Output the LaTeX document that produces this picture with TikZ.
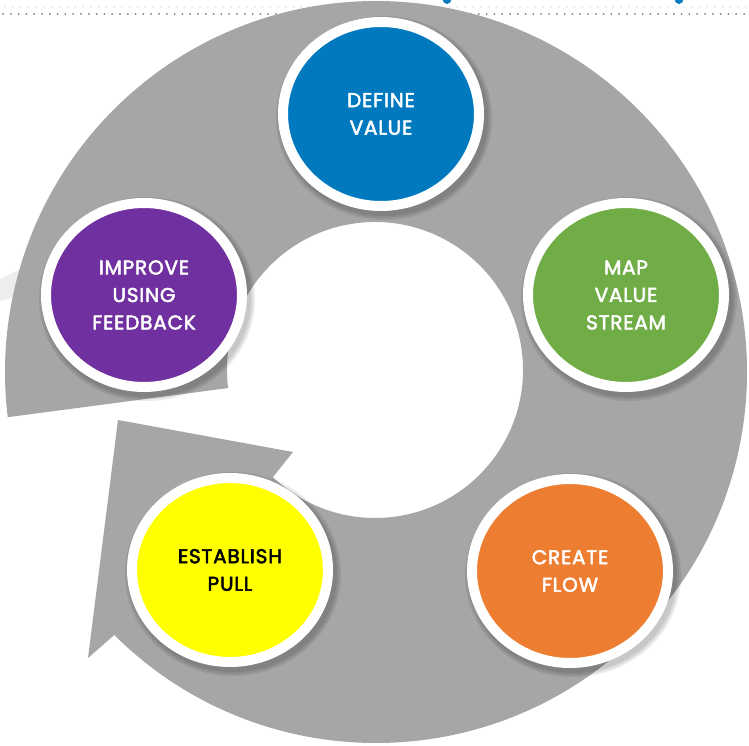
\documentclass[tikz,border=0pt]{standalone}
\usepackage{fontspec}
\newfontfamily\lblfont{Poppins}[FakeBold=2.5,LetterSpace=4]
\usetikzlibrary{shapes.geometric,calc}

\definecolor{ringgray}{HTML}{A6A6A6}
\definecolor{glint}{HTML}{EDEDED}
\definecolor{dotblue}{HTML}{5E7F9C}
\definecolor{faintblue}{HTML}{DDEEF7}
\definecolor{headblue}{HTML}{0A7AC2}
\definecolor{cblue}{HTML}{0079BF}
\definecolor{cgreen}{HTML}{70AD47}
\definecolor{corange}{HTML}{ED7D31}
\definecolor{cyellow}{HTML}{FFFF00}
\definecolor{cpurple}{HTML}{7030A0}

\tikzset{
  stage/.style={ellipse, draw=white, line width=10pt, inner sep=0pt,
    minimum width=196pt, minimum height=184pt, align=center,
    font=\lblfont\fontsize{20}{27.5}\selectfont},
  stageshadow/.style={fill=black, opacity=0.08}
}

\begin{document}
\begin{tikzpicture}[x=1pt,y=1pt]
\useasboundingbox (0,0) rectangle (749,745);
\clip (0,0) rectangle (749,745);

% header rule: dotted line and cut-off heading strokes
\foreach \i in {0,...,96}
  \fill[dotblue] (3+7.8*\i,731) circle (1.0);
\foreach \i in {0,...,96}
  \fill[faintblue] (5+7.8*\i,738) circle (1.2);
\fill[headblue] (447,746) ellipse (4.5 and 5);
\fill[headblue] (679,746) ellipse (4.5 and 5);

% faint glint beside the ring
\fill[glint] (45,486) .. controls (25,478) and (8,470) .. (0,466)
  -- (0,444) .. controls (12,447) and (28,450) .. (45,452) -- cycle;

% circular arrow: ring body
\coordinate (O) at (376,373);
\coordinate (I) at (375,375);
\fill[ringgray] ($(O)+(225:371)$) arc[start angle=225, end angle=547, radius=371]
  -- ($(I)+(547:148)$) arc[start angle=547, end angle=225, radius=148] -- cycle;

% circular arrow: head
\coordinate (notchout) at (112,108);
\coordinate (barbout) at (88,87);
\coordinate (tip) at (118,325);
\coordinate (barbin) at (293,293);
\coordinate (notchin) at (273,268);
\fill[ringgray] (notchout) -- (barbout) -- (tip) -- (barbin) -- (notchin) -- cycle;

% soft shadows under the stage discs
\foreach \p in {(381,631),(626,450),(570,174),(230,175),(144,450)}{
  \foreach \g in {0,2,4}
    \fill[stageshadow] \p ++(3,-4) ellipse ({104+\g} and {98+\g});
}

% stages
\node[stage, fill=cblue, text=white]    (define)  at (381,631) {DEFINE\\VALUE};
\node[stage, fill=cgreen, text=white]   (map)     at (626,450) {MAP\\VALUE\\STREAM};
\node[stage, fill=corange, text=white]  (flow)    at (570,174) {CREATE\\FLOW};
\node[stage, fill=cyellow, text=black]  (pull)    at (230,175) {ESTABLISH\\PULL};
\node[stage, fill=cpurple, text=white]  (improve) at (144,450) {IMPROVE\\USING\\FEEDBACK};
\end{tikzpicture}
\end{document}
